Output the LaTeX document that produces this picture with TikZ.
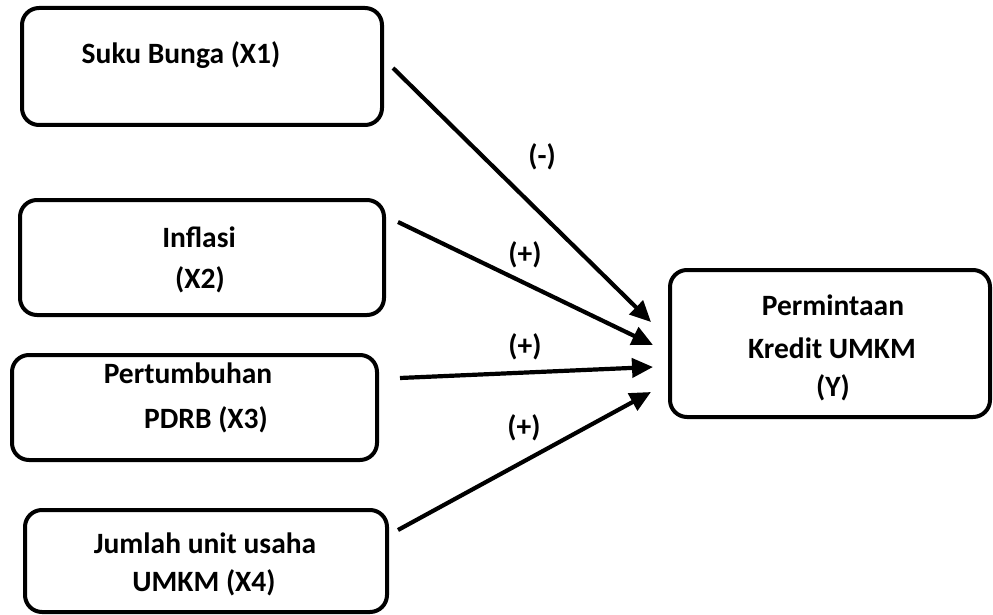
\documentclass[tikz,border=0pt]{standalone}
\usepackage{fontspec}
\setmainfont{Carlito}
\usetikzlibrary{arrows.meta}
\begin{document}
\begin{tikzpicture}[x=1pt,y=-1pt,
  box/.style={draw=black, line width=4pt, rounded corners=17pt, inner sep=0pt},
  lbl/.style={font=\fontsize{29.5}{34}\selectfont\bfseries, inner sep=0pt, anchor=center},
  arr/.style={line width=4.2pt, -{Triangle[length=21pt,width=19pt]}}]
\useasboundingbox (0,0) rectangle (993,615);
\node[box, minimum width=360pt, minimum height=117pt] (x1) at (202,66.5) {};
\node[box, minimum width=364pt, minimum height=115pt] (x2) at (202,257.5) {};
\node[box, minimum width=365pt, minimum height=105pt] (x3) at (194.5,407.5) {};
\node[box, minimum width=362pt, minimum height=102pt] (x4) at (206,561) {};
\node[box, minimum width=320pt, minimum height=147pt] (y) at (830,343.5) {};
\node[lbl] (t1) at (181,55) {Suku Bunga (X1)};
\node[lbl] (t2a) at (199,237) {Inflasi};
\node[lbl] (t2b) at (200,280) {(X2)};
\node[lbl] (t3a) at (188,373) {Pertumbuhan};
\node[lbl] (t3b) at (206,420) {PDRB (X3)};
\node[lbl] (t4a) at (205,543) {Jumlah unit usaha};
\node[lbl] (t4b) at (204,583) {UMKM (X4)};
\node[lbl] (ty1) at (833,305) {Permintaan};
\node[lbl] (ty2) at (832,348) {Kredit UMKM};
\node[lbl] (ty3) at (833,388) {(Y)};
\coordinate (s1) at (393,68);
\coordinate (e1) at (651,322);
\coordinate (s2) at (398,222);
\coordinate (e2) at (653,345);
\coordinate (s3) at (400,378);
\coordinate (e3) at (653,367);
\coordinate (s4) at (398,530);
\coordinate (e4) at (651,392);
\draw[arr] (s1) -- (e1);
\draw[arr] (s2) -- (e2);
\draw[arr] (s3) -- (e3);
\draw[arr] (s4) -- (e4);
\node[lbl] (l1) at (542,157) {(-)};
\node[lbl] (l2) at (525,255) {(+)};
\node[lbl] (l3) at (525,347) {(+)};
\node[lbl] (l4) at (524,428) {(+)};
\end{tikzpicture}
\end{document}
